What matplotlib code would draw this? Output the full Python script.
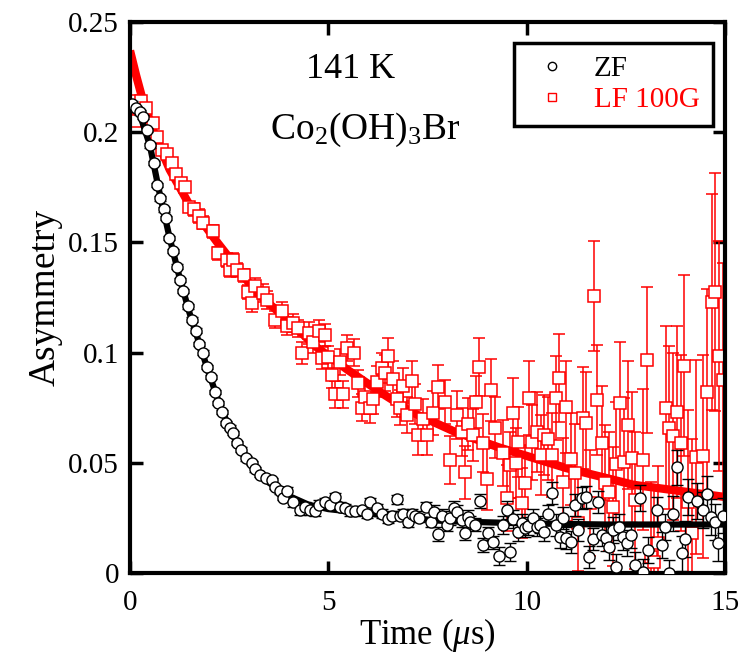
import matplotlib
matplotlib.use("Agg")
import matplotlib.pyplot as plt
from matplotlib.lines import Line2D

plt.rcParams["font.family"] = ["Liberation Serif", "DejaVu Serif"]
plt.rcParams["mathtext.fontset"] = "custom"
plt.rcParams["mathtext.rm"] = "Liberation Serif"
plt.rcParams["mathtext.it"] = "Liberation Serif:italic"

# ZF data (time in us, asymmetry, error)
zf_t = [0.05, 0.15, 0.25, 0.33, 0.42, 0.50, 0.60, 0.68, 0.76, 0.85,
        0.91, 0.99, 1.08, 1.18, 1.26, 1.34, 1.45, 1.57, 1.66, 1.74,
        1.85, 1.93, 2.03, 2.13, 2.22, 2.33, 2.42, 2.51, 2.60, 2.69,
        2.80, 2.92, 3.07, 3.15, 3.28, 3.42, 3.57, 3.65, 3.78, 3.86,
        3.95, 4.10, 4.28, 4.40, 4.54, 4.66, 4.77, 4.92, 5.04, 5.17,
        5.29, 5.42, 5.55, 5.67, 5.85, 5.97, 6.05, 6.22, 6.35, 6.50,
        6.60, 6.72, 6.80, 6.89, 7.00, 7.10, 7.18, 7.29, 7.46, 7.59,
        7.66, 7.77, 7.86, 7.98, 8.07, 8.17, 8.24, 8.37, 8.44, 8.52,
        8.57, 8.70, 8.82, 8.90, 9.02, 9.15, 9.30, 9.40, 9.50, 9.58,
        9.66, 9.78, 9.88, 9.96, 10.04, 10.15, 10.26, 10.34, 10.44, 10.54,
        10.63, 10.74, 10.84, 10.92, 11.00, 11.12, 11.22, 11.30, 11.39, 11.49,
        11.58, 11.68, 11.79, 11.89, 12.00, 12.08, 12.17, 12.25, 12.33, 12.43,
        12.53, 12.64, 12.73, 12.86, 12.94, 13.06, 13.28, 13.41, 13.50, 13.59,
        13.69, 13.79, 13.91, 13.99, 14.07, 14.29, 14.45, 14.54, 14.64, 14.75,
        14.83, 14.95]
zf_a = [0.213, 0.211, 0.209, 0.207, 0.201, 0.194, 0.186, 0.176, 0.170, 0.165,
        0.161, 0.152, 0.146, 0.139, 0.133, 0.128, 0.121, 0.115, 0.110, 0.104,
        0.100, 0.0935, 0.089, 0.082, 0.077, 0.073, 0.068, 0.066, 0.0635, 0.059,
        0.056, 0.052, 0.050, 0.047, 0.0445, 0.043, 0.042, 0.039, 0.037, 0.034,
        0.037, 0.032, 0.0285, 0.030, 0.0285, 0.028, 0.031, 0.032, 0.031, 0.0345,
        0.030, 0.0295, 0.028, 0.028, 0.0285, 0.027, 0.032, 0.0295, 0.027, 0.0245,
        0.026, 0.0335, 0.026, 0.027, 0.023, 0.027, 0.026, 0.025, 0.030, 0.023,
        0.0277, 0.0177, 0.026, 0.022, 0.025, 0.0295, 0.0277, 0.024, 0.018, 0.0255,
        0.023, 0.022, 0.0327, 0.0127, 0.018, 0.014, 0.0077, 0.0218, 0.0285, 0.0095,
        0.0245, 0.0186, 0.0227, 0.0204, 0.0213, 0.025, 0.021, 0.022, 0.0186, 0.027,
        0.0363, 0.0218, 0.0163, 0.025, 0.0159, 0.014, 0.031, 0.0195, 0.034, 0.0345,
        0.0073, 0.0154, 0.0322, 0.0172, 0.0159, 0.0118, 0.0195, 0.0027, 0.021, 0.0163,
        0.0136, 0.0172, 0.0036, 0.034, 0.0005, 0.0104, 0.0286, 0.0127, 0.021, 0.0,
        0.027, 0.048, 0.009, 0.0154, 0.0345, 0.0327, 0.0286, 0.0359, 0.0254, 0.0231,
        0.0136, 0.026]
zf_err = [0.001] * 40 + [0.002] * 30 + [0.003] * 16 + [0.004] * 14 + \
         [0.005] * 14 + [0.006] * 16 + [0.008] * 12

# LF 100G data
lf_t = [0.03, 0.13, 0.20, 0.28, 0.40, 0.58, 0.68, 0.80, 0.92, 1.05,
        1.16, 1.29, 1.38, 1.48, 1.62, 1.75, 1.84, 2.10, 2.22, 2.44,
        2.52, 2.60, 2.69, 2.87, 2.97, 3.07, 3.15, 3.36, 3.45, 3.66,
        3.84, 3.95, 4.10, 4.23, 4.34, 4.52, 4.62, 4.77, 4.85, 4.92,
        5.00, 5.09, 5.17, 5.29, 5.38, 5.46, 5.65, 5.75, 5.84, 5.92,
        6.05, 6.13, 6.22, 6.35, 6.43, 6.50, 6.62, 6.72, 6.80, 6.89,
        6.98, 7.10, 7.18, 7.26, 7.39, 7.48, 7.64, 7.77, 7.94, 8.07,
        8.24, 8.37, 8.44, 8.52, 8.64, 8.72, 8.80, 8.90, 9.00, 9.10,
        9.20, 9.41, 9.50, 9.58, 9.66, 9.72, 9.78, 9.88, 9.96, 10.06,
        10.13, 10.26, 10.36, 10.44, 10.54, 10.64, 10.74, 10.82, 10.92, 11.00,
        11.12, 11.22, 11.30, 11.42, 11.49, 11.60, 11.70, 11.77, 11.90, 11.97,
        12.08, 12.18, 12.25, 12.35, 12.45, 12.55, 12.65, 12.73, 12.93, 13.03,
        13.13, 13.20, 13.30, 13.51, 13.59, 13.69, 13.79, 13.89, 13.97, 14.07,
        14.17, 14.27, 14.44, 14.55, 14.67, 14.75, 14.85, 14.95]
lf_a = [0.214, 0.205, 0.211, 0.214, 0.211, 0.204, 0.198, 0.192, 0.190, 0.186,
        0.181, 0.177, 0.175, 0.166, 0.165, 0.162, 0.159, 0.155, 0.145, 0.142,
        0.1375, 0.142, 0.1375, 0.135, 0.1275, 0.1225, 0.130, 0.127, 0.124, 0.115,
        0.119, 0.112, 0.1134, 0.111, 0.100, 0.109, 0.105, 0.110, 0.0975, 0.108,
        0.098, 0.090, 0.081, 0.0957, 0.081, 0.102, 0.100, 0.086, 0.075, 0.080,
        0.075, 0.079, 0.0867, 0.093, 0.0907, 0.0985, 0.088, 0.079, 0.075, 0.085,
        0.0717, 0.087, 0.0767, 0.0626, 0.070, 0.0626, 0.0726, 0.0844, 0.0776, 0.0513,
        0.0717, 0.064, 0.0458, 0.0676, 0.0626, 0.0776, 0.0935, 0.059, 0.0426, 0.083,
        0.066, 0.0544, 0.034, 0.049, 0.0726, 0.050, 0.0594, 0.0318, 0.041, 0.0794,
        0.0594, 0.064, 0.0535, 0.0626, 0.061, 0.0535, 0.0794, 0.0885, 0.0413, 0.0753,
        0.0517, 0.0454, 0.0227, 0.0703, 0.068, 0.0318, 0.1257, 0.0785, 0.059, 0.041,
        0.0368, 0.030, 0.0495, 0.077, 0.0504, 0.067, 0.0522, 0.033, 0.0513, 0.0966,
        0.0073, 0.005, 0.0136, 0.075, 0.066, 0.062, 0.073, 0.059, 0.094, 0.032,
        0.018, 0.0526, 0.053, 0.082, 0.123, 0.1275, 0.0985, 0.0876]
lf_err = [0.002, 0.002, 0.002, 0.002, 0.002, 0.002, 0.002, 0.002, 0.002, 0.002,
          0.002, 0.002, 0.002, 0.002, 0.003, 0.003, 0.003, 0.003, 0.003, 0.003,
          0.003, 0.003, 0.003, 0.003, 0.003, 0.004, 0.004, 0.004, 0.004, 0.004,
          0.004, 0.004, 0.004, 0.004, 0.005, 0.005, 0.005, 0.005, 0.005, 0.005,
          0.005, 0.006, 0.006, 0.006, 0.006, 0.006, 0.006, 0.006, 0.006, 0.007,
          0.007, 0.007, 0.007, 0.007, 0.008, 0.008, 0.008, 0.008, 0.008, 0.008,
          0.008, 0.009, 0.009, 0.009, 0.009, 0.009, 0.010, 0.010, 0.010, 0.011,
          0.011, 0.011, 0.012, 0.012, 0.012, 0.012, 0.013, 0.013, 0.014, 0.014,
          0.014, 0.015, 0.015, 0.015, 0.016, 0.016, 0.016, 0.016, 0.017, 0.017,
          0.017, 0.018, 0.018, 0.018, 0.019, 0.019, 0.019, 0.020, 0.020, 0.021,
          0.021, 0.022, 0.022, 0.023, 0.023, 0.024, 0.025, 0.025, 0.026, 0.026,
          0.027, 0.027, 0.028, 0.028, 0.029, 0.029, 0.030, 0.031, 0.032, 0.033,
          0.034, 0.034, 0.035, 0.037, 0.037, 0.038, 0.039, 0.040, 0.041, 0.042,
          0.043, 0.044, 0.046, 0.047, 0.049, 0.054, 0.052, 0.053]

# fit curves
zf_fit_t = [0, 0.25, 0.5, 0.75, 1.0, 1.25, 1.5, 1.75, 2.0, 2.25, 2.5, 2.75,
            3.0, 3.5, 4.0, 4.5, 5.0, 6.0, 7.0, 8.0, 9.0, 10.0, 12.0, 15.0]
zf_fit_a = [0.213, 0.208, 0.194, 0.172, 0.152, 0.134, 0.118, 0.104, 0.090,
            0.077, 0.066, 0.057, 0.050, 0.041, 0.035, 0.031, 0.029, 0.027,
            0.025, 0.0235, 0.023, 0.0225, 0.022, 0.022]
lf_fit_t = [0, 0.15, 0.3, 0.6, 1.0, 1.5, 2.2, 3.2, 3.9, 4.7, 5.5, 6.4, 7.1,
            8.2, 9.3, 11.0, 12.7, 15.0]
lf_fit_a = [0.237, 0.226, 0.216, 0.200, 0.183, 0.167, 0.150, 0.127, 0.116,
            0.1025, 0.092, 0.081, 0.073, 0.064, 0.057, 0.0476, 0.040, 0.0345]

fig = plt.figure(figsize=(7.4, 6.56), dpi=100)
ax = fig.add_axes([0.1757, 0.1265, 0.804, 0.84])

ax.plot(lf_fit_t, lf_fit_a, color="red", lw=6, zorder=1, solid_capstyle="butt")
ax.errorbar(lf_t, lf_a, yerr=lf_err, fmt="s", color="red", mfc="white",
            mec="red", ms=8, mew=1.1, elinewidth=1.1, capsize=4,
            capthick=1.1, zorder=2)
ax.plot(zf_fit_t, zf_fit_a, color="black", lw=4.5, zorder=3, solid_capstyle="butt")
ax.errorbar(zf_t, zf_a, yerr=zf_err, fmt="o", color="black", mfc="white",
            mec="black", ms=8, mew=1.0, elinewidth=1.0, capsize=4,
            capthick=1.0, zorder=4)

ax.set_xlim(0, 15)
ax.set_ylim(0, 0.25)
ax.set_xticks([0, 5, 10, 15])
ax.set_xticklabels(["0", "5", "10", "15"])
ax.set_yticks([0, 0.05, 0.1, 0.15, 0.2, 0.25])
ax.set_yticklabels(["0", "0.05", "0.1", "0.15", "0.2", "0.25"])
ax.tick_params(direction="in", length=9, width=2.5, labelsize=21,
               top=True, right=True)
ax.tick_params(axis="x", pad=12)
ax.tick_params(axis="y", pad=8)
for s in ax.spines.values():
    s.set_linewidth(3)

ax.set_xlabel(r"Time ($\mu$s)", fontsize=25, labelpad=0)
ax.set_ylabel("Asymmetry", fontsize=27, labelpad=4)

ax.text(0.371, 0.913, "141 K", transform=ax.transAxes, fontsize=26,
        ha="center", va="center")
ax.text(0.395, 0.805, r"Co$_2$(OH)$_3$Br", transform=ax.transAxes,
        fontsize=27, ha="center", va="center")

handles = [
    Line2D([], [], ls="none", marker="o", mfc="white", mec="black", ms=6),
    Line2D([], [], ls="none", marker="s", mfc="white", mec="red", ms=6),
]
leg = ax.legend(handles, ["ZF", "LF 100G"], loc="upper right",
                bbox_to_anchor=(0.98, 0.962), fontsize=21, frameon=True,
                fancybox=False, edgecolor="black", framealpha=1,
                labelcolor=["black", "red"],
                handletextpad=0.6, borderpad=0.45, labelspacing=0.15,
                handlelength=1.7, borderaxespad=0)
leg.get_frame().set_linewidth(2.5)

fig.savefig("out.png", dpi=100)
